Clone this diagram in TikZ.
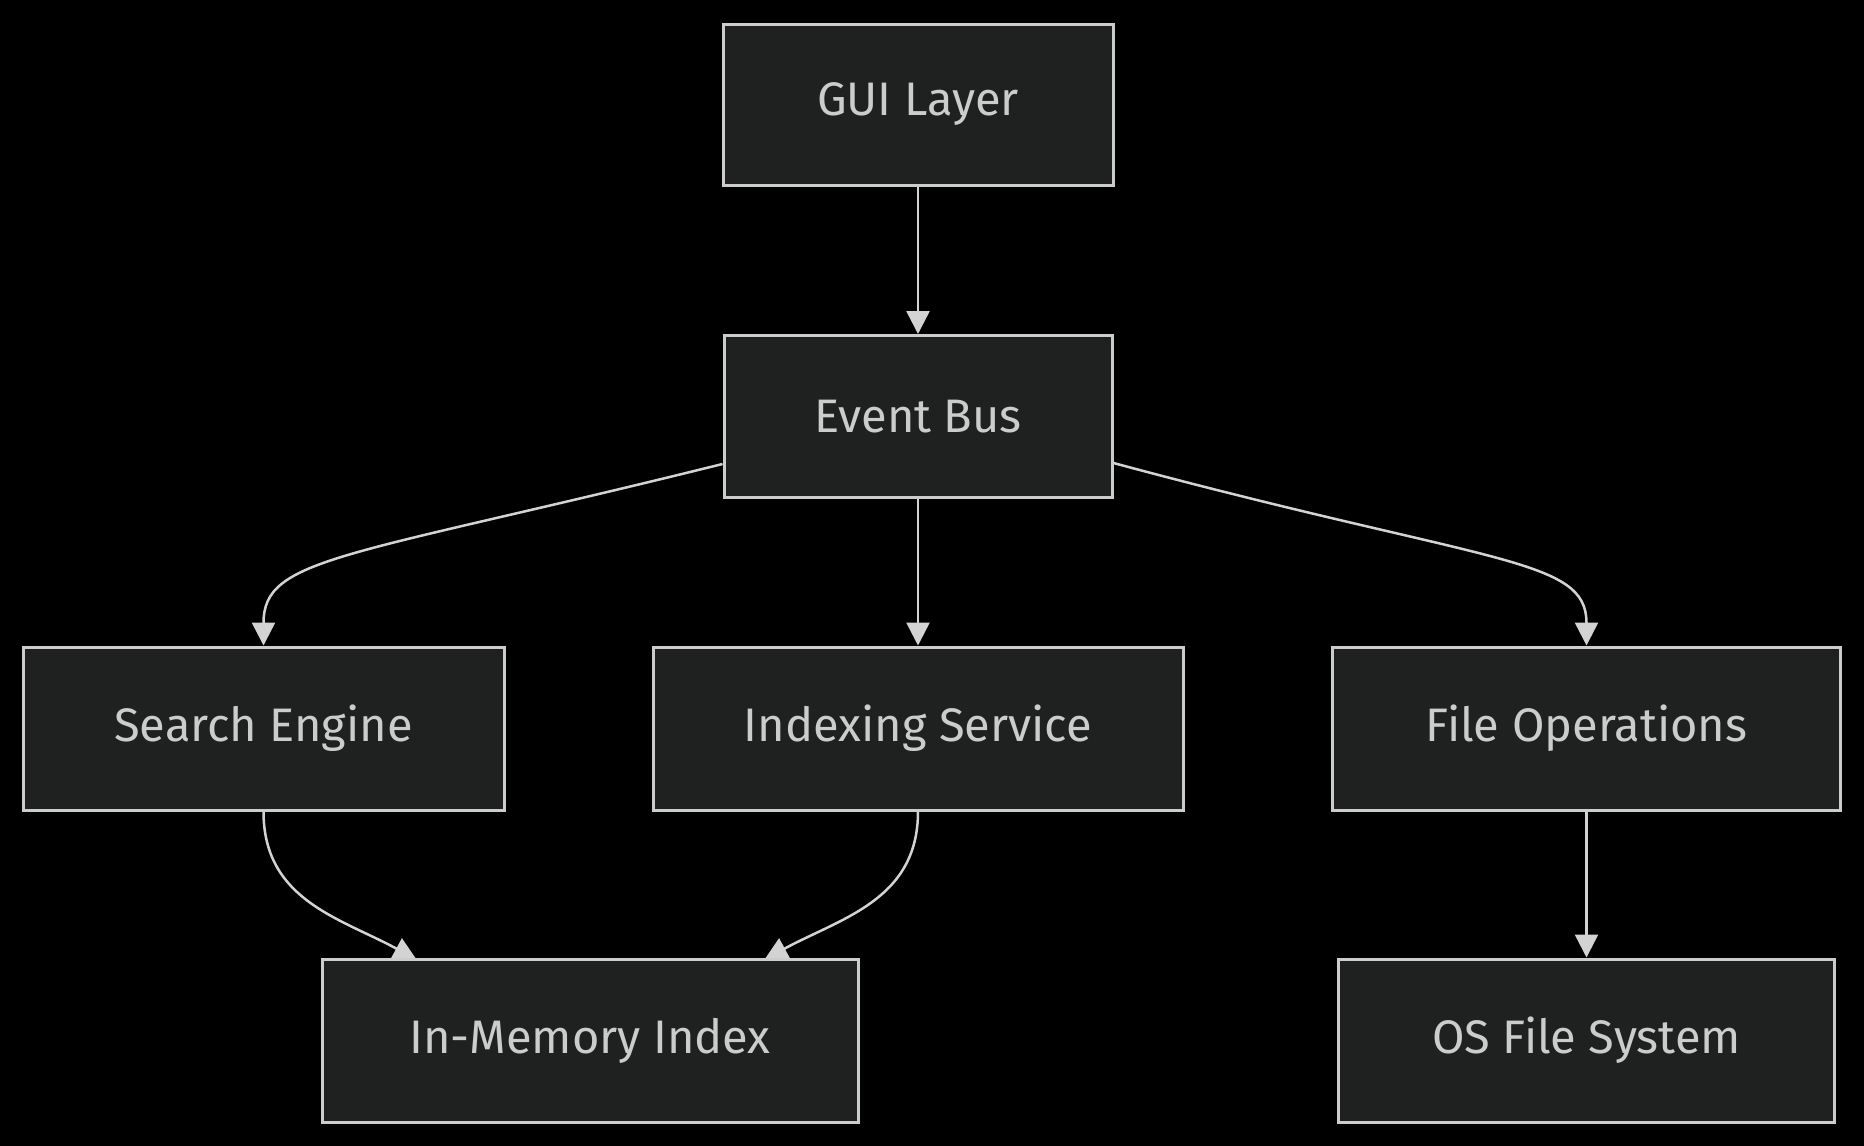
\documentclass[tikz,border=0pt]{standalone}
\usepackage{fontspec}
\setmainfont{Fira Sans}
\usetikzlibrary{arrows.meta}
\definecolor{boxfill}{HTML}{1F2020}
\definecolor{boxline}{HTML}{CCCCCC}
\definecolor{txt}{HTML}{CCCCCC}
\definecolor{edgecol}{HTML}{D3D3D3}
\pgfdeclarelayer{bglayer}
\pgfdeclarelayer{edgelayer}
\pgfsetlayers{bglayer,edgelayer,main}
\begin{document}
\begin{tikzpicture}[x=1pt,y=-1pt,
  box/.style={draw=boxline, fill=boxfill, line width=3pt, rectangle, inner sep=0pt,
    text=txt, font=\fontsize{47}{56}\selectfont},
  conn/.style={draw=edgecol, line width=2.5pt, -{Triangle[length=23pt,width=23pt]}}]
\useasboundingbox (0,0) rectangle (1864,1146);
\begin{pgfonlayer}{bglayer}
\fill[black] (0,0) rectangle (1864,1146);
\end{pgfonlayer}
\node[box, minimum width=390pt, minimum height=161pt] (gui) at (918,104.5) {GUI Layer};
\node[box, minimum width=388pt, minimum height=162pt] (bus) at (918,416.5) {Event Bus};
\node[box, minimum width=481pt, minimum height=163pt] (search) at (263.5,728.5) {Search Engine};
\node[box, minimum width=530pt, minimum height=163pt] (index) at (918,728.5) {Indexing Service};
\node[box, minimum width=508pt, minimum height=163pt] (fileops) at (1586.5,728.5) {File Operations};
\node[box, minimum width=536pt, minimum height=163pt] (mem) at (590,1040.5) {In-Memory Index};
\node[box, minimum width=496pt, minimum height=163pt] (os) at (1586.5,1040.5) {OS File System};
\begin{pgfonlayer}{edgelayer}
\draw[conn] (gui.south) -- (bus.north);
\draw[conn] (bus.south) -- (index.north);
\draw[conn] ([yshift=35pt]bus.south west) .. controls (344,558) and (263.5,557) .. (search.north);
\draw[conn] ([yshift=36pt]bus.south east) .. controls (1492,565) and (1586.5,557) .. (fileops.north);
\draw[conn] (search.south) .. controls (263.5,900) and (340,918) .. ([xshift=96pt,yshift=-2pt]mem.north west);
\draw[conn] (index.south) .. controls (918,900) and (841,918) .. ([xshift=-95pt,yshift=-2pt]mem.north east);
\draw[conn] (fileops.south) -- (os.north);
\end{pgfonlayer}
\end{tikzpicture}
\end{document}
